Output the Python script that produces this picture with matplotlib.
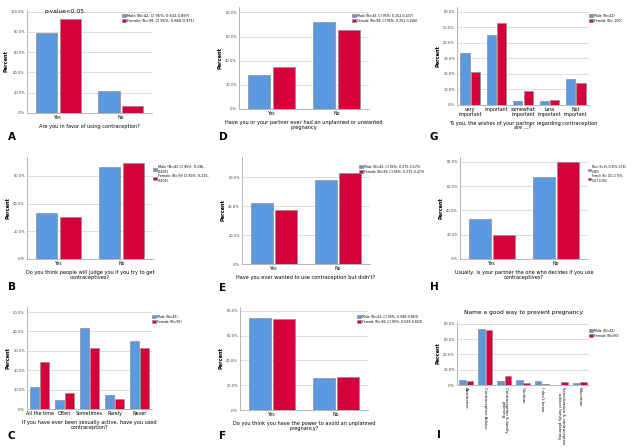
"""
Panel figure: contraception survey, male vs female percentages
"""
import matplotlib
matplotlib.use('Agg')
import matplotlib.pyplot as plt
import numpy as np

# ---- data (percent) ----
a_cats = ['Yes', 'No']
a_male = [78.6, 21.4]
a_female = [92.9, 7.1]

d_cats = ['Yes', 'No']
d_male = [27.9, 72.1]
d_female = [34.7, 65.3]

g_cats = ['very\nimportant', 'important', 'somewhat\nimportant', 'Less\nimportant', 'Not\nimportant']
g_male = [33.3, 45.2, 2.4, 2.4, 16.7]
g_female = [21.0, 53.0, 9.0, 3.0, 14.0]

b_cats = ['Yes', 'No']
b_male = [33.3, 66.7]
b_female = [30.3, 69.7]

e_cats = ['Yes', 'No']
e_male = [41.9, 58.1]
e_female = [37.4, 62.6]

h_cats = ['Yes', 'No']
h_male = [32.6, 67.4]
h_female = [20.0, 80.0]

c_cats = ['All the time', 'Often', 'Sometimes', 'Rarely', 'Never']
c_male = [11.6, 4.7, 41.9, 7.0, 34.9]
c_female = [24.0, 8.3, 31.3, 5.2, 31.3]

f_cats = ['Yes', 'No']
f_male = [74.4, 25.6]
f_female = [73.5, 26.5]

i_cats = ['Abstinence', 'Contraceptive Advice', 'Contraception & family\nplanning', 'Condom',
          "I don't know", 'Sensitization & contraceptive\nadvice/ family planning', 'Education']
i_male = [7.1, 73.8, 4.8, 7.1, 4.8, 0.0, 2.4]
i_female = [5.6, 72.2, 12.2, 2.2, 1.1, 4.4, 4.4]

BLUE = '#5b98df'
RED = '#d5003a'
W, H = 640, 448


def px_axes(fig, left, top, right, bottom):
    return fig.add_axes([left / W, 1 - bottom / H, (right - left) / W, (bottom - top) / H])


def bar_panel(fig, box, cats, male, female, labels, yticks, ytop, xlabel, leg_xy,
              letter, letter_xy, width=0.34, rot=0, title=None, leg_fs=2.6):
    ax = px_axes(fig, *box)
    x = np.arange(len(cats))
    off = width / 2 + 0.02
    ax.bar(x - off, male, width, color=BLUE, edgecolor='#8f8f8f', linewidth=0.5, label=labels[0], zorder=3)
    ax.bar(x + off, female, width, color=RED, edgecolor='#8f8f8f', linewidth=0.5, label=labels[1], zorder=3)
    ax.set_xlim(-0.5, len(cats) - 0.5)
    ax.set_ylim(0, ytop)
    ax.set_yticks(yticks)
    ax.set_yticklabels(['.0%' if t == 0 else f'{t:.1f}%' for t in yticks], fontsize=2.6, color='#444444')
    ax.set_xticks(x)
    if rot:
        ax.set_xticklabels(cats, fontsize=2.8, rotation=-90, va='top', ha='center', linespacing=0.9)
    else:
        ax.set_xticklabels(cats, fontsize=3.4, linespacing=0.9)
    ax.tick_params(length=0, pad=1.5)
    ax.yaxis.grid(True, color='#dcdcdc', linewidth=0.7, zorder=0)
    for s in ['top', 'right']:
        ax.spines[s].set_visible(False)
    for s in ['left', 'bottom']:
        ax.spines[s].set_color('#aaaaaa')
        ax.spines[s].set_linewidth(0.6)
    ax.set_ylabel('Percent', fontsize=3.6, fontweight='bold', labelpad=2)
    if xlabel:
        ax.set_xlabel(xlabel, fontsize=3.6, labelpad=3, linespacing=0.9)
    if title:
        ax.set_title(title, fontsize=4.2, pad=6)
    fig.legend(loc='upper left', bbox_to_anchor=(leg_xy[0] / W, 1 - leg_xy[1] / H),
               fontsize=leg_fs, frameon=False, handlelength=1.2, handleheight=1.0,
               handletextpad=0.3, borderaxespad=0, borderpad=0, labelspacing=0.2,
               handles=ax.get_legend_handles_labels()[0], labels=labels)
    fig.text(letter_xy[0] / W, 1 - letter_xy[1] / H, letter, fontsize=7.5, fontweight='bold',
             va='center', ha='left')
    return ax


fig = plt.figure(figsize=(6.4, 4.48), dpi=100)

ax = bar_panel(fig, (27, 10, 152, 113), a_cats, a_male, a_female,
               ['Male (N=42, CI 95%: 0.632-0.897)', 'Female (N=99, CI 95%: 0.860-0.971)'],
               [0, 20, 40, 60, 80, 100], 101.5, 'Are you in favor of using contraception?',
               (122, 14), 'A', (8, 137))
ax.text(0.1, 100, 'p-value<0.05', fontsize=4.2, ha='center', va='center')

bar_panel(fig, (239, 7, 369, 109), d_cats, d_male, d_female,
          ['Male (N=43, CI 95%: 0.152-0.437)', 'Female (N=98, CI 95%: 0.251-0.446)'],
          [0, 20, 40, 60, 80], 84.5,
          'Have you or your partner ever had an unplanned or unwanted\npregnancy',
          (352, 14), 'D', (219, 137), leg_fs=2.3)

bar_panel(fig, (457, 7, 589, 105), g_cats, g_male, g_female,
          ['Male (N=42)', 'Female (N= 100)'],
          [0, 10, 20, 30, 40, 50, 60], 63,
          'To you, the wishes of your partner regarding contraception\nare ...?',
          (589, 14), 'G', (430, 137), width=0.35, leg_fs=2.3)

bar_panel(fig, (27, 157, 153, 259), b_cats, b_male, b_female,
          ['Male (N=42 CI 95%: 0.196-\n0.495)', 'Female (N=99 CI 95%: 0.215-\n0.404)'],
          [0, 20, 40, 60], 73.7,
          'Do you think people will judge you if you try to get\ncontraceptives?',
          (153, 165), 'B', (8, 287), leg_fs=2.4)

bar_panel(fig, (242, 157, 370, 264), e_cats, e_male, e_female,
          ['Male (N=43, CI 95%: 0.275-0.575)', 'Female (N=99, CI 95%: 0.275-0.473)'],
          [0, 20, 40, 60], 73.8,
          "Have you ever wanted to use contraception but didn't?",
          (359, 165), 'E', (219, 288), leg_fs=2.3)

bar_panel(fig, (460, 157, 588, 259), h_cats, h_male, h_female,
          ['Male (N=43, CI 95%: 0.191-\n0.460)', 'Female (N= 100, CI 95%:\n0.127-0.292)'],
          [0, 20, 40, 60, 80], 84,
          'Usually, is your partner the one who decides if you use\ncontraceptives?',
          (588, 165), 'H', (430, 287), leg_fs=1.8)

bar_panel(fig, (27, 307, 152, 409), c_cats, c_male, c_female,
          ['Male (N=43)', 'Female (N=96)'],
          [0, 10, 20, 30, 40, 50], 52.6,
          'If you have ever been sexually active, have you used\ncontraception?',
          (152, 315), 'C', (8, 436), width=0.37, leg_fs=2.3)

bar_panel(fig, (240, 307, 368, 410), f_cats, f_male, f_female,
          ['Male (N=43, CI 95%: 0.588-0.863)', 'Female (N=98, CI 95%: 0.639-0.823)'],
          [0, 20, 40, 60, 80], 83,
          'Do you think you have the power to avoid an unplanned\npregnancy?',
          (357, 315), 'F', (219, 436), leg_fs=2.3)

bar_panel(fig, (457, 322, 589, 385), i_cats, i_male, i_female,
          ['Male (N=42)', 'Female (N=90)'],
          [0, 20, 40, 60, 80], 82.6, None,
          (589, 329), 'I', (437, 435), width=0.35, rot=90,
          title='Name a good way to prevent pregnancy', leg_fs=2.3)

fig.savefig('out.png', dpi=100, facecolor='white')
